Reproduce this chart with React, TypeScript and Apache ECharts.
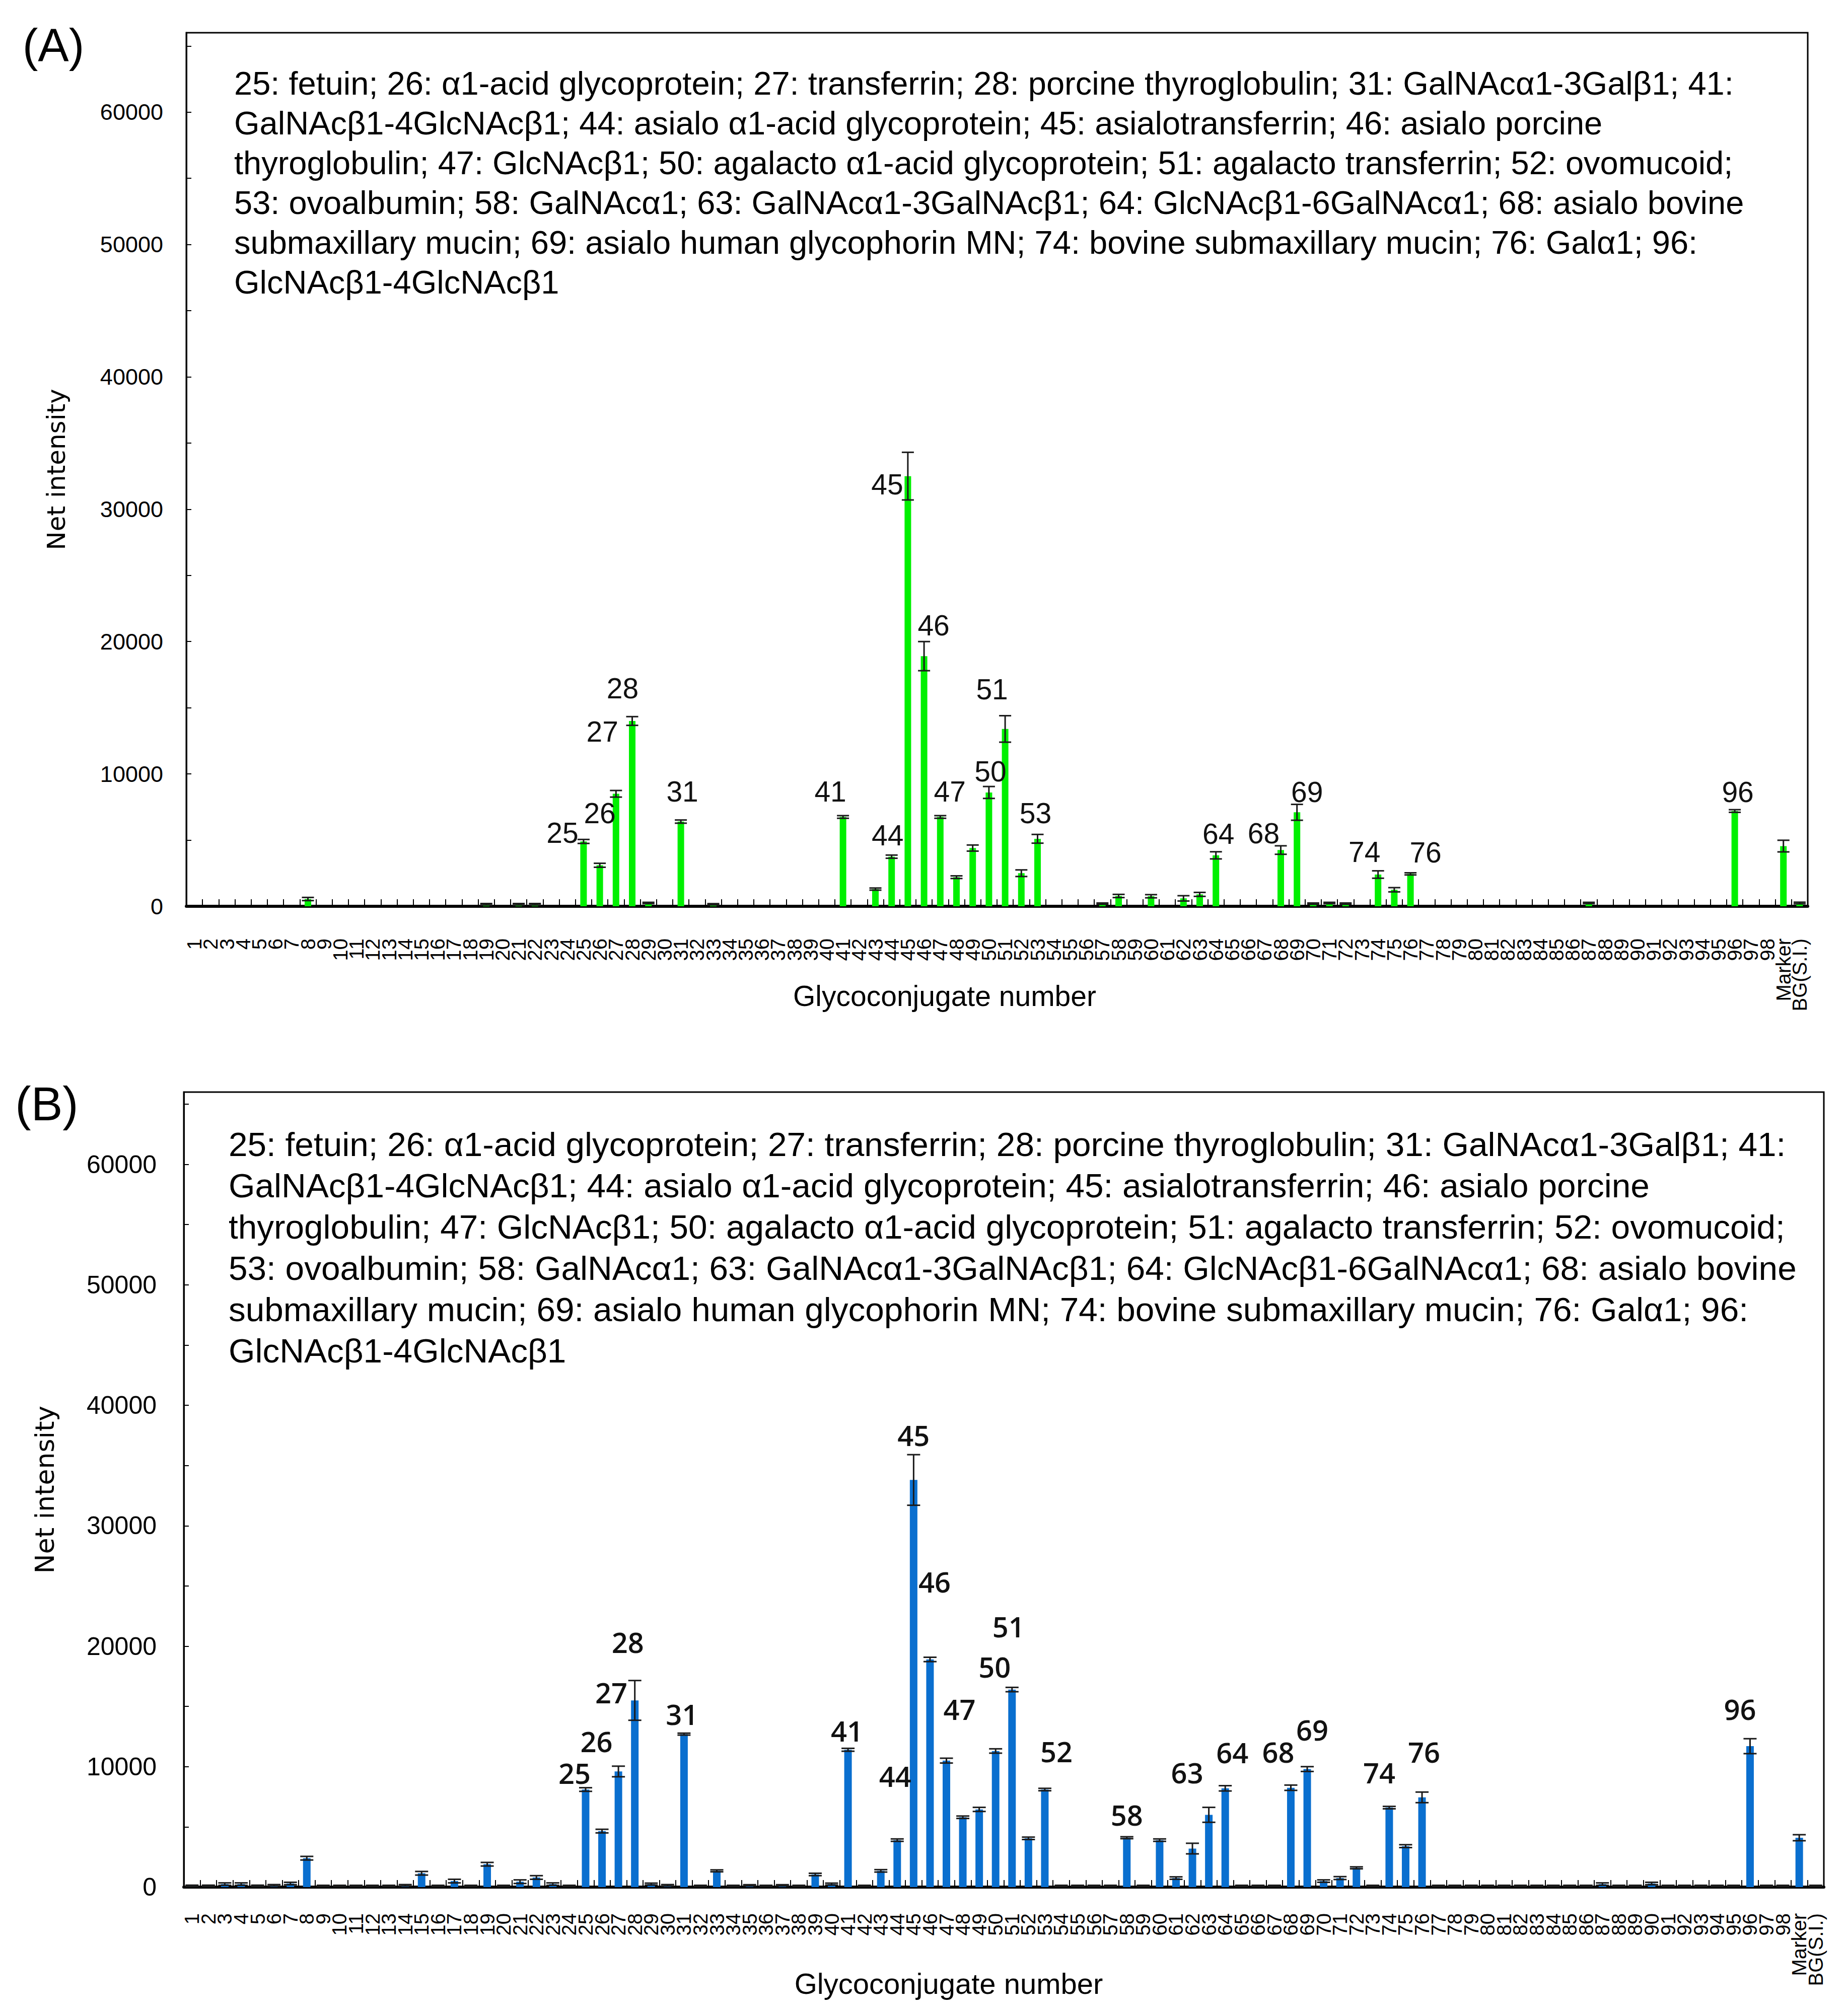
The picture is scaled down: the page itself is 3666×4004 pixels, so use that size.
import React, { useEffect, useRef } from 'react';
import * as echarts from 'echarts';

// ---------------- DATA ----------------
const categories = [
  '1','2','3','4','5','6','7','8','9','10',
  '11','12','13','14','15','16','17','18','19','20',
  '21','22','23','24','25','26','27','28','29','30',
  '31','32','33','34','35','36','37','38','39','40',
  '41','42','43','44','45','46','47','48','49','50',
  '51','52','53','54','55','56','57','58','59','60',
  '61','62','63','64','65','66','67','68','69','70',
  '71','72','73','74','75','76','77','78','79','80',
  '81','82','83','84','85','86','87','88','89','90',
  '91','92','93','94','95','96','97','98','Marker','BG(S.I.)',
];

// Panel A (green) net intensities
const valuesA = [
  0, 0, 0, 0, 0, 0, 0, 550, 0, 0,
  0, 0, 0, 0, 0, 0, 0, 0, 150, 0,
  150, 150, 0, 0, 4900, 3100, 8500, 14000, 250, 0,
  6400, 0, 150, 0, 0, 0, 0, 0, 0, 0,
  6750, 0, 1300, 3750, 32500, 18900, 6750, 2200, 4400, 8600,
  13400, 2500, 5100, 0, 0, 0, 200, 780, 0, 760,
  0, 600, 900, 3850, 0, 0, 0, 4250, 7100, 200,
  250, 200, 0, 2400, 1250, 2450, 0, 0, 0, 0,
  0, 0, 0, 0, 0, 0, 250, 0, 0, 0,
  0, 0, 0, 0, 0, 7200, 0, 0, 4550, 250,
];
const errorsA = [
  0, 0, 0, 0, 0, 0, 0, 120, 0, 0,
  0, 0, 0, 0, 0, 0, 0, 0, 60, 0,
  60, 60, 0, 0, 150, 150, 250, 330, 50, 0,
  120, 0, 50, 0, 0, 0, 0, 0, 0, 0,
  100, 0, 80, 120, 1800, 1100, 100, 100, 230, 450,
  1000, 250, 330, 0, 0, 0, 50, 120, 0, 120,
  0, 200, 150, 270, 0, 0, 0, 320, 600, 50,
  50, 50, 0, 280, 160, 80, 0, 0, 0, 0,
  0, 0, 0, 0, 0, 0, 50, 0, 0, 0,
  0, 0, 0, 0, 0, 100, 0, 0, 440, 60,
];

// Panel B (blue) net intensities
const valuesB = [
  100, 100, 250, 250, 100, 150, 300, 2400, 100, 100,
  100, 100, 100, 150, 1150, 100, 500, 100, 1900, 100,
  450, 800, 250, 100, 8100, 4650, 9600, 15500, 250, 150,
  12700, 100, 1350, 100, 150, 100, 150, 100, 1050, 250,
  11400, 100, 1350, 3900, 33800, 18900, 10500, 5800, 6450, 11300,
  16400, 4050, 8100, 100, 100, 100, 100, 4100, 100, 3900,
  750, 3200, 6000, 8200, 100, 100, 100, 8250, 9800, 500,
  750, 1600, 100, 6600, 3400, 7450, 100, 100, 100, 100,
  100, 100, 100, 100, 100, 100, 250, 100, 100, 300,
  100, 100, 100, 100, 100, 11700, 100, 100, 4100, 100,
];
const errorsB = [
  60, 60, 100, 100, 60, 60, 100, 150, 50, 50,
  50, 50, 50, 60, 150, 50, 150, 50, 150, 50,
  150, 150, 100, 50, 150, 150, 440, 1650, 80, 60,
  80, 50, 80, 50, 50, 50, 50, 50, 100, 80,
  120, 50, 100, 100, 2100, 180, 200, 100, 170, 180,
  180, 100, 100, 50, 50, 50, 50, 80, 50, 100,
  100, 440, 620, 220, 50, 50, 50, 220, 200, 100,
  120, 80, 50, 100, 120, 440, 50, 50, 50, 50,
  50, 50, 50, 50, 50, 50, 100, 50, 50, 100,
  50, 50, 50, 50, 50, 620, 50, 50, 250, 50,
];

const yTickLabels = ['0', '10000', '20000', '30000', '40000', '50000', '60000'];

// which bars carry a number label (text shown; B's bar 53 is marked "52" in the original)
const labelTextA: Record<string, string> = {
  '25': '25', '26': '26', '27': '27', '28': '28', '31': '31', '41': '41', '44': '44',
  '45': '45', '46': '46', '47': '47', '50': '50', '51': '51', '53': '53', '64': '64',
  '68': '68', '69': '69', '74': '74', '76': '76', '96': '96',
};
const labelTextB: Record<string, string> = {
  '25': '25', '26': '26', '27': '27', '28': '28', '31': '31', '41': '41', '44': '44',
  '45': '45', '46': '46', '47': '47', '50': '50', '51': '51', '53': '52', '58': '58',
  '63': '63', '64': '64', '68': '68', '69': '69', '74': '74', '76': '76', '96': '96',
};

const annotationLines = [
  '25: fetuin; 26: α1-acid glycoprotein; 27: transferrin; 28: porcine thyroglobulin; 31: GalNAcα1-3Galβ1; 41:',
  'GalNAcβ1-4GlcNAcβ1; 44: asialo α1-acid glycoprotein; 45: asialotransferrin; 46: asialo porcine',
  'thyroglobulin; 47: GlcNAcβ1; 50: agalacto α1-acid glycoprotein; 51: agalacto transferrin; 52: ovomucoid;',
  '53: ovoalbumin; 58: GalNAcα1; 63: GalNAcα1-3GalNAcβ1; 64: GlcNAcβ1-6GalNAcα1; 68: asialo bovine',
  'submaxillary mucin; 69: asialo human glycophorin MN; 74: bovine submaxillary mucin; 76: Galα1; 96:',
  'GlcNAcβ1-4GlcNAcβ1',
];

// ---------------- STYLE (label offsets, px, relative to bar top centre) ----------------
const labelOffsetA: Record<string, [number, number]> = {
  '25': [-42, -17], '26': [0, -104], '27': [-27, -124], '28': [-19, -65], '31': [3, -60],
  '41': [-25, -51], '44': [-8, -42], '45': [-41, 16], '46': [19, -61], '47': [19, -51],
  '50': [3, -42], '51': [-26, -79], '53': [-4, -51], '64': [5, -43], '68': [-34, -33],
  '69': [20, -40], '74': [-27, -45], '76': [30, -43], '96': [6, -38],
};
const labelOffsetB: Record<string, [number, number]> = {
  '25': [-22, -33], '26': [-11, -179], '27': [-14, -157], '28': [-14, -116], '31': [-4, -40],
  '41': [-2, -38], '44': [-4, -128], '45': [0, -89], '46': [9, -155], '47': [26, -103],
  '50': [-2, -168], '51': [-7, -126], '53': [23, -76], '58': [0, -46], '63': [-43, -84],
  '64': [14, -72], '68': [-25, -72], '69': [10, -79], '74': [-20, -70], '76': [4, -91],
  '96': [-20, -74],
};

const SANS = '"Liberation Sans", Arial, Helvetica, sans-serif';

function barData(values: number[], texts: Record<string, string>, offsets: Record<string, [number, number]>) {
  return values.map((v, i) => {
    const cat = categories[i];
    if (texts[cat] === undefined) return v;
    return { value: v, label: { show: true, offset: offsets[cat] || [0, -40], formatter: texts[cat] } };
  });
}

function errorRender(capHalf: number) {
  return (params: any, api: any) => {
    const idx = api.value(0);
    const v = api.value(1);
    const e = api.value(2);
    if (!e) return { type: 'group', children: [] };
    const top = api.coord([idx, v + e]);
    const bot = api.coord([idx, Math.max(0, v - e)]);
    const x = top[0];
    const style = { stroke: '#1a1a1a', lineWidth: 3 };
    return {
      type: 'group',
      children: [
        { type: 'line', shape: { x1: x, y1: top[1], x2: x, y2: bot[1] }, style },
        { type: 'line', shape: { x1: x - capHalf, y1: top[1], x2: x + capHalf, y2: top[1] }, style },
        { type: 'line', shape: { x1: x - capHalf, y1: bot[1], x2: x + capHalf, y2: bot[1] }, style },
      ],
    };
  };
}

function xAxisCfg(gridIndex: number, margin: number, fontSize: number) {
  return {
    type: 'category',
    gridIndex,
    data: categories,
    axisLine: { show: true, lineStyle: { color: '#000', width: 6 } },
    axisTick: { show: true, inside: true, length: 14, interval: 0, lineStyle: { color: '#000', width: 2 } },
    axisLabel: { interval: 0, rotate: 90, fontSize, fontFamily: SANS, color: '#000', margin },
    splitLine: { show: false },
  };
}

function yAxisCfg(gridIndex: number, labelSize: number, margin: number, nameGap: number, nameSize: number) {
  return {
    type: 'value',
    gridIndex,
    min: 0,
    max: 66000,
    interval: 5000,
    splitLine: { show: false },
    axisLine: { show: true, lineStyle: { color: '#000', width: 3 } },
    axisTick: { show: true, inside: true, length: 10, lineStyle: { color: '#000', width: 2 } },
    axisLabel: {
      formatter: (v: number) => (yTickLabels.includes(String(v)) ? String(v) : ''),
      fontSize: labelSize,
      fontFamily: SANS,
      color: '#000',
      margin,
    },
    name: 'Net intensity',
    nameLocation: 'middle',
    nameGap,
    nameTextStyle: { fontSize: nameSize, fontFamily: '"DejaVu Sans", sans-serif', color: '#000' },
  };
}

export default function App() {
  const ref = useRef<HTMLDivElement>(null);

  useEffect(() => {
    if (!ref.current) return;
    const chart = echarts.init(ref.current, undefined, { renderer: 'svg' });
    const option: any = {
      animation: false,
      backgroundColor: '#fff',
      grid: [
        { left: 370, top: 65, width: 3220, height: 1735, show: true, borderColor: '#000', borderWidth: 3, backgroundColor: 'transparent' },
        { left: 365, top: 2169, width: 3257, height: 1579, show: true, borderColor: '#000', borderWidth: 3, backgroundColor: 'transparent' },
      ],
      xAxis: [xAxisCfg(0, 64, 40), xAxisCfg(1, 52, 40)],
      yAxis: [
        yAxisCfg(0, 45, 46, 233, 50),
        yAxisCfg(1, 50, 54, 250, 52),
      ],
      series: [
        {
          type: 'bar',
          xAxisIndex: 0,
          yAxisIndex: 0,
          barWidth: 13,
          itemStyle: { color: '#00F000' },
          label: {
            show: false, position: 'top', distance: 0, align: 'center', verticalAlign: 'middle',
            fontSize: 57, fontFamily: SANS, color: '#111',
          },
          data: barData(valuesA, labelTextA, labelOffsetA),
          z: 2,
        },
        {
          type: 'custom',
          xAxisIndex: 0,
          yAxisIndex: 0,
          renderItem: errorRender(12),
          encode: { x: 0, y: 1 },
          data: categories.map((c, i) => [i, valuesA[i], errorsA[i]]),
          z: 3,
        },
        {
          type: 'bar',
          xAxisIndex: 1,
          yAxisIndex: 1,
          barWidth: 15,
          itemStyle: { color: '#0A6FCF' },
          label: {
            show: false, position: 'top', distance: 0, align: 'center', verticalAlign: 'middle',
            fontSize: 56, fontFamily: '"Open Sans", "Noto Sans", sans-serif', fontWeight: 600, color: '#111',
          },
          data: barData(valuesB, labelTextB, labelOffsetB),
          z: 2,
        },
        {
          type: 'custom',
          xAxisIndex: 1,
          yAxisIndex: 1,
          renderItem: errorRender(13),
          encode: { x: 0, y: 1 },
          data: categories.map((c, i) => [i, valuesB[i], errorsB[i]]),
          z: 3,
        },
      ],
      graphic: [
        { type: 'text', x: 106, y: 90, style: { text: '(A)', fontSize: 92, fontFamily: SANS, fill: '#000', align: 'center', verticalAlign: 'middle' } },
        { type: 'text', x: 93, y: 2192, style: { text: '(B)', fontSize: 94, fontFamily: SANS, fill: '#000', align: 'center', verticalAlign: 'middle' } },
        {
          type: 'text', x: 465, y: 126,
          style: { text: annotationLines.join('\n'), fontSize: 65, lineHeight: 79, fontFamily: SANS, fill: '#000', align: 'left', verticalAlign: 'top' },
        },
        {
          type: 'text', x: 454, y: 2231,
          style: { text: annotationLines.join('\n'), fontSize: 67.5, lineHeight: 82, fontFamily: SANS, fill: '#000', align: 'left', verticalAlign: 'top' },
        },
        { type: 'text', x: 1876, y: 1978, style: { text: 'Glycoconjugate number', fontSize: 57, fontFamily: SANS, fill: '#000', align: 'center', verticalAlign: 'middle' } },
        { type: 'text', x: 1884, y: 3939, style: { text: 'Glycoconjugate number', fontSize: 58, fontFamily: SANS, fill: '#000', align: 'center', verticalAlign: 'middle' } },
      ],
    };
    chart.setOption(option);
    return () => chart.dispose();
  }, []);

  return (
    <div
      ref={ref}
      style={{ position: 'absolute', left: 0, top: 0, width: 3666, height: 4004, background: '#fff' }}
    />
  );
}
